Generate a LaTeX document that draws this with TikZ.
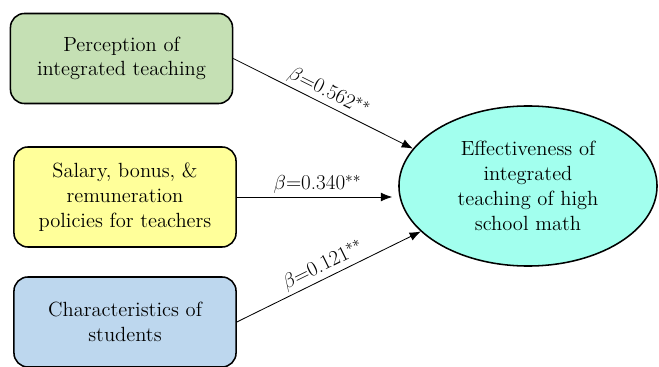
\documentclass[tikz,border=0pt]{standalone}
\usepackage{tikz}
\usepackage{amsmath}
\usetikzlibrary{shapes.geometric,arrows.meta}

\definecolor{boxgreen}{HTML}{C5E0B4}
\definecolor{boxyellow}{HTML}{FFFF9A}
\definecolor{boxblue}{HTML}{BDD7EE}
\definecolor{ellcyan}{HTML}{A2FFEE}

\begin{document}
\begin{tikzpicture}[x=0.025cm, y=-0.025cm,
    factor/.style={draw, rectangle, rounded corners=0.35cm, line width=1.1pt,
        minimum width=5.55cm, align=center, font=\fontsize{14.6}{17.6}\selectfont},
    outcome/.style={draw, ellipse, line width=1.1pt, fill=ellcyan,
        minimum width=6.45cm, minimum height=4.0cm, align=center, inner sep=0pt,
        font=\fontsize{14.6}{17.6}\selectfont},
    path/.style={-{Latex[length=2.8mm,width=2.2mm]}, line width=0.6pt},
    coef/.style={font=\fontsize{15}{17}\selectfont, inner sep=2pt}]
    \useasboundingbox (0,0) rectangle (659,367);

    % Predictor Nodes
    \node (perception) [factor, fill=boxgreen, minimum height=2.25cm] at (121.5,58.5)
        {Perception of\\integrated teaching};
    \node (salary) [factor, fill=boxyellow, minimum height=2.5cm] at (125,197)
        {Salary, bonus, \&\\remuneration\\policies for teachers};
    \node (students) [factor, fill=boxblue, minimum height=2.25cm] at (125,322)
        {Characteristics of\\students};

    % Outcome Node
    \node (effect) [outcome] at (528,186)
        {Effectiveness of\\integrated\\teaching of high\\school math};

    % Arrows
    \draw[path] (perception.east) -- (effect.162)
        node[coef, midway, above, sloped] {$\beta$=0.562$^{**}$};
    \draw[path, shorten >=0.15cm] (salary.east) -- (salary.east -| effect.west)
        node[coef, midway, above] {$\beta$=0.340$^{**}$};
    \draw[path] (students.east) -- (effect.203)
        node[coef, midway, above, sloped] {$\beta$=0.121$^{**}$};
\end{tikzpicture}
\end{document}
